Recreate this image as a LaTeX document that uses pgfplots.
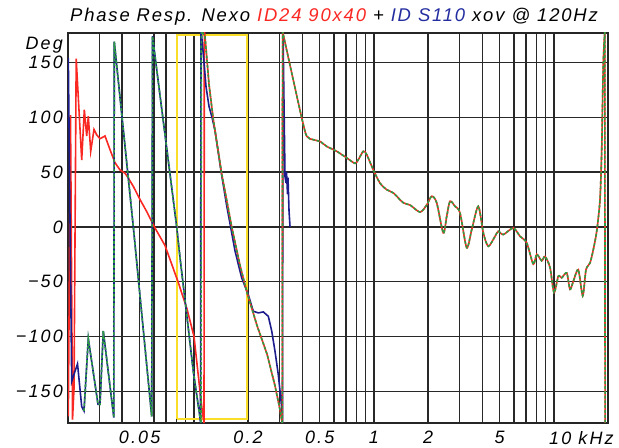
\documentclass[border=0pt]{standalone}
\usepackage{fontspec}
\setmainfont{Liberation Sans}
\usepackage{pgfplots}
\pgfplotsset{compat=1.18}
\definecolor{cred}{RGB}{250,40,35}
\definecolor{cblue}{RGB}{28,28,140}
\definecolor{tblue}{RGB}{35,45,160}
\definecolor{cgreen}{RGB}{45,155,65}
\definecolor{cyel}{RGB}{250,222,40}
\definecolor{cgrid}{RGB}{40,40,40}
\newfontfamily\lblfont[LetterSpace=12]{Liberation Sans}
\newfontfamily\ttlfont[LetterSpace=10]{Liberation Sans}
\newcommand\tickfont{\lblfont\itshape\fontsize{18}{20}\selectfont}
\newcommand\titlefont{\ttlfont\itshape\fontsize{18.5}{20}\selectfont}
\begin{document}
\begin{tikzpicture}
\useasboundingbox (-68bp,-25bp) rectangle (551bp,423bp);
\begin{axis}[
  at={(0,0)}, anchor=south west,
  width=540bp, height=390bp, scale only axis,
  xmode=log, xmin=20, xmax=20000,
  ymin=-179, ymax=177,
  xtick={20,30,40,50,60,70,80,90,100,200,300,400,500,600,700,800,900,1000,2000,3000,4000,5000,6000,7000,8000,9000,10000},
  xticklabels={,,,0.05,,,,,,0.2,,,0.5,,,,,1,2,,,5,,,,,},
  ytick={-150,-100,-50,0,50,100,150},
  yticklabels={−150,−100,−50,0,50,100,150},
  grid=major,
  major grid style={cgrid, line width=1.4bp},
  tick style={draw=none},
  axis line style={black!85, line width=1.4bp},
  ticklabel style={font=\tickfont},
  yticklabel style={anchor=east, inner sep=0pt, xshift=-5bp},
  xticklabel style={anchor=north, inner sep=0pt, yshift=-8bp},
  clip=true,
]
% yellow window
\addplot[cyel, line width=2bp] coordinates {(80.65,-175) (197.5,-175) (197.5,175.5) (80.65,175.5) (80.65,-175)};
% red low part (ID24)
\addplot[cred, line width=1.6bp] table {
20.08 -173
20.65 102
21.19 -176
21.60 -147
22.21 153.6
23.83 61
24.64 107
25.40 83
25.93 101
26.74 69
27.89 89
28.87 84
30.12 80.5
32.11 83
34.23 70.5
36.49 58.6
38.89 52
41.47 49
43.09 45
46.11 37
50.24 25
54.73 14
58.35 5
60.86 -1
69.17 -17
81.68 -50
91.67 -75
100.24 -100
108.23 -150
111.75 -170
113.92 -179
114.35 179
115.38 174
};
% blue (ID S110)
\addplot[cblue, line width=1.6bp] table {
20.08 154
20.97 -141
22.59 -125
23.83 -164
24.54 -168
25.93 -102
29.36 -162
30.12 -162
31.41 -95
35.93 -174
36.16 169
46.11 0
58.35 -173
58.95 174
80.34 0
83.80 -28
91.31 -80
99.36 -132
108.23 -174
108.93 -179
109.63 179
110.61 174
113.92 150
116.9 128
121.45 110
126.2 100
131.1 88
142.8 47
152.8 18
158.9 3
169.4 -22
184.5 -46.5
200.8 -62
214.0 -77
228.2 -78.5
243.2 -77.6
259.3 -81.6
270.8 -95
282.5 -113.5
294.7 -135
303.9 -156
309.0 -168
310.9 -179
312.9 179
321.1 46
325.2 40
327.3 50
331.5 30
333.6 45
337.9 15
342.3 0
};
% red and sum, 115 Hz to 311 Hz
\pgfplotstableread{
f deg
115.38 174
121.45 130
128.3 98
142.8 48.5
162.4 0
180.5 -35
197.5 -60
224.4 -90
255.0 -116
282.5 -145
301.2 -167
309.0 -178
310.2 -179
}\midtab
% red and sum, from 311 Hz
\pgfplotstableread{
f deg
311.3 179
314.1 175.5
357.0 134
397.6 99.6
423.9 82.7
461.1 79.6
502.4 78
547.3 73.5
622.0 69
706.9 63
786.1 58
820.0 61.4
874.2 69
913.1 66
993.6 52
1082 40
1179 34
1283 31
1458 22
1589 20
1806 13.5
1967 20
2097 28
2235 22
2432 -5.5
2541 9.7
2650 23.4
2825 18.8
3012 12.8
3281 -19
3498 -2.5
3806 18.8
4058 -5.5
4325 -17.7
4713 -8.6
4916 -4
5241 -7
5956 -1
6489 -8.6
7069 -14.6
7692 -34
8034 -25
8563 -31
8934 -27
9523 -37
10024 -60
10591 -45
11062 -46.5
11793 -42
12302 -57
12832 -49.6
13677 -39
14470 -63
15094 -39
15887 -33
16572 -20.7
17310 -4
18054 25
18452 70.6
18834 150
19198 179
}\hightab
\addplot[cred, line width=1.6bp] table[x=f,y=deg] {\midtab};
\addplot[cred, line width=1.6bp] coordinates {(310.2,-179) (311.3,179)};
\addplot[cred, line width=1.6bp, smooth, tension=0.45] table[x=f,y=deg] {\hightab};
\addplot[cred, line width=1.6bp] coordinates {(19198,179) (19272,-179)};
% sum (green dashed)
\addplot[cgreen, line width=1.6bp, dash pattern=on 3bp off 1.8bp] table {
24.54 -168
25.93 -102
29.36 -162
30.12 -162
31.41 -95
35.93 -174
36.16 169
46.11 0
58.35 -173
58.95 174
80.34 0
83.80 -28
91.31 -80
99.36 -132
108.23 -174
109.63 -179
110.05 179
115.38 174
};
\addplot[cgreen, line width=1.6bp, dash pattern=on 3bp off 1.8bp] table[x=f,y=deg] {\midtab};
\addplot[cgreen, line width=1.6bp, dash pattern=on 3bp off 1.8bp] coordinates {(310.2,-179) (311.3,179)};
\addplot[cgreen, line width=1.6bp, dash pattern=on 3bp off 1.8bp, smooth, tension=0.45] table[x=f,y=deg] {\hightab};
\addplot[cgreen, line width=1.6bp, dash pattern=on 3bp off 1.8bp] coordinates {(19198,179) (19272,-179)};
\end{axis}
\node[font=\titlefont, anchor=base] at (266bp,401bp) {Phase Resp. Nexo \textcolor{cred}{ID24 90x40} + \textcolor{tblue}{ID S110} xov @ 120Hz};
\node[font=\tickfont, anchor=east, inner sep=0pt] at (-5bp,378bp) {Deg};
\node[font=\tickfont, anchor=north west, inner sep=0pt] at (481bp,-8bp) {10 kHz};
\end{tikzpicture}
\end{document}
